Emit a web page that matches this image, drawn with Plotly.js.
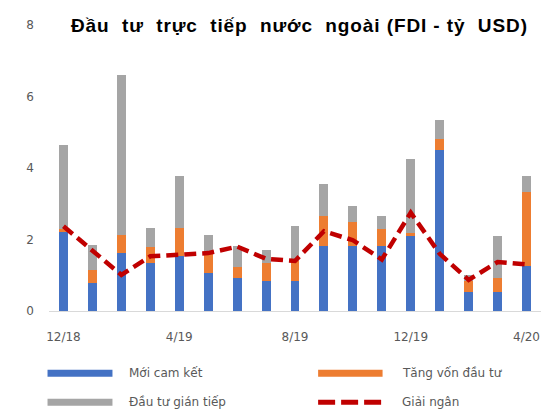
<!DOCTYPE html>
<html>
<head>
<meta charset="utf-8">
<script src="https://cdn.plot.ly/plotly-3.0.1.min.js"></script>
<style>
html,body{margin:0;padding:0;background:#fff;}
#chart{width:544px;height:412px;}
#chart .gtitle{letter-spacing:0.9px;}
</style>
</head>
<body>
<div id="chart"></div>
<script>
// Categories (months)
const months = ['12/18','1/19','2/19','3/19','4/19','5/19','6/19','7/19','8/19','9/19','10/19','11/19','12/19','1/20','2/20','3/20','4/20'];
// Tick labels shown
const tickMonths = ['12/18','4/19','8/19','12/19','4/20'];
// Series (tỷ USD)
const moiCamKet   = [2.20, 0.78, 1.62, 1.34, 1.53, 1.06, 0.92, 0.83, 0.83, 1.81, 1.81, 1.81, 2.09, 4.49, 0.52, 0.52, 1.25];
const tangVon     = [0.10, 0.37, 0.52, 0.46, 0.80, 0.54, 0.31, 0.52, 0.56, 0.85, 0.67, 0.47, 0.10, 0.33, 0.31, 0.40, 2.07];
const gianTiep    = [2.33, 0.71, 4.45, 0.53, 1.45, 0.54, 0.58, 0.37, 0.98, 0.89, 0.46, 0.38, 2.06, 0.51, 0.18, 1.17, 0.46];
const giaiNgan    = [2.37, 1.69, 1.01, 1.53, 1.58, 1.62, 1.80, 1.46, 1.40, 2.23, 1.98, 1.44, 2.75, 1.60, 0.87, 1.37, 1.30];
// Legend labels
const names = ['Mới cam kết', 'Tăng vốn đầu tư', 'Đầu tư gián tiếp', 'Giải ngân'];
const colors = ['#4472C4', '#ED7D31', '#A5A5A5', '#C00000'];

const traces = [
  {type:'bar', x:months, y:moiCamKet, name:names[0], marker:{color:colors[0]}},
  {type:'bar', x:months, y:tangVon, name:names[1], marker:{color:colors[1]}},
  {type:'bar', x:months, y:gianTiep, name:names[2], marker:{color:colors[2]}},
  {type:'scatter', mode:'lines', x:months, y:giaiNgan, name:names[3],
   line:{color:colors[3], width:4.5, dash:'12px,6px'}}
];

const lblFont = {family:'DejaVu Sans, sans-serif', size:12, color:'#595959'};

// Manual legend (2 columns x 2 rows)
const legCols = [[-0.003, 0.129, 0.159], [0.547, 0.678, 0.713]];
const legRows = [-0.218, -0.319];
const legItems = [[0,0,0],[1,1,0],[2,0,1],[3,1,1]]; // [series, col, row]
const shapes = [];
const annotations = [];
legItems.forEach(([s,c,r]) => {
  const col = legCols[c], yy = legRows[r];
  shapes.push({type:'line', xref:'paper', yref:'paper', x0:col[0], x1:col[1], y0:yy, y1:yy,
    line:{color:colors[s], width: s===3 ? 5 : 7, dash: s===3 ? '17px,6px' : 'solid'}});
  annotations.push({xref:'paper', yref:'paper', x:col[2], y:yy, xanchor:'left', yanchor:'middle',
    text:names[s], showarrow:false, font:lblFont});
});

const layout = {
  width:544, height:412,
  margin:{l:48.5, r:2.5, t:25, b:100.5},
  paper_bgcolor:'#fff', plot_bgcolor:'#fff',
  barmode:'stack', bargap:0.69,
  showlegend:false,
  title:{text:'Đầu\u00A0 tư\u00A0 trực\u00A0 tiếp\u00A0 nước\u00A0 ngoài (FDI - tỷ\u00A0 USD)',
         font:{family:'Liberation Sans, Arial, sans-serif', size:19, color:'#000', weight:'bold'},
         xref:'container', yref:'container', x:0.1305, xanchor:'left', y:1-25/412, yanchor:'middle'},
  xaxis:{type:'category', tickvals:tickMonths, ticktext:tickMonths, showgrid:false, zeroline:false,
         showline:true, linecolor:'#d9d9d9', linewidth:1, ticks:'', ticklabelstandoff:15,
         tickfont:lblFont, range:[-0.5, months.length-0.5], fixedrange:true},
  yaxis:{range:[0,8], dtick:2, tick0:0, showgrid:false, zeroline:false, showline:false, ticks:'',
         ticklabelstandoff:14, tickfont:lblFont, fixedrange:true},
  shapes:shapes,
  annotations:annotations
};

Plotly.newPlot('chart', traces, layout, {staticPlot:true, displayModeBar:false});
</script>
</body>
</html>
